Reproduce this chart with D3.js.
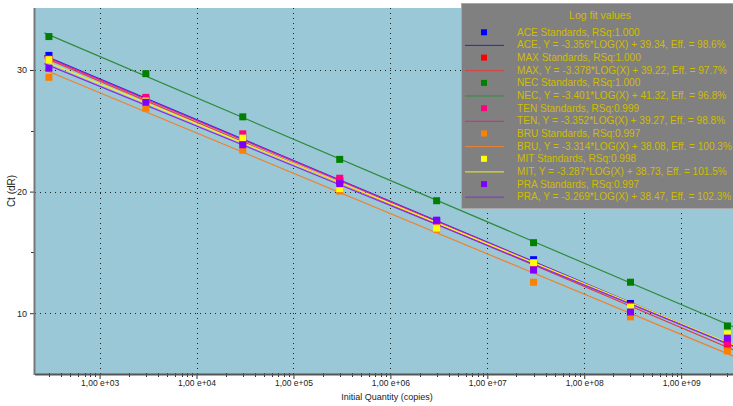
<!DOCTYPE html>
<html>
<head>
<meta charset="utf-8">
<script src="https://cdn.jsdelivr.net/npm/d3@7/dist/d3.min.js"></script>
<style>
html,body{margin:0;padding:0;background:#fff;}
svg{display:block;font-family:"Liberation Sans",Arial,sans-serif;}
</style>
</head>
<body>
<svg id="c" width="733" height="406"></svg>
<script>
// ---- data ----
const quantities = [3e2, 3e3, 3e4, 3e5, 3e6, 3e7, 3e8, 3e9];
const seriesNames = ["ACE", "MAX", "NEC", "TEN", "BRU", "MIT", "PRA"];
const seriesColors = ["#0000ff", "#ff0000", "#008000", "#ff0080", "#ff8000", "#ffff00", "#8000ff"];
const lineColors = ["#1f1fff", "#e03c3c", "#2e8b3e", "#e0208a", "#f08030", "#f0f020", "#8a2be2"];
const ctACE = [31.2, 27.6, 24.4, 20.9, 17.6, 14.4, 10.8, 7.6];
const ctMAX = [30.9, 27.5, 24.1, 20.8, 17.3, 13.9, 10.6, 7.3];
const ctNEC = [32.75, 29.7, 26.15, 22.65, 19.25, 15.8, 12.55, 8.95];
const ctTEN = [30.9, 27.75, 24.75, 21.1, 17.5, 14.0, 10.5, 7.55];
const ctBRU = [29.4, 26.85, 23.4, 20.05, 16.9, 12.55, 9.7, 6.9];
const ctMIT = [30.85, 27.45, 24.4, 20.25, 17.0, 14.15, 10.5, 8.3];
const ctPRA = [30.15, 27.35, 23.85, 20.65, 17.65, 13.55, 10.1, 7.95];
const slopes = [-3.356, -3.378, -3.401, -3.352, -3.314, -3.287, -3.269];
const intercepts = [39.34, 39.22, 41.32, 39.27, 38.08, 38.73, 38.47];
const effs = ["98.6", "97.7", "96.8", "98.8", "100.3", "101.5", "102.3"];
const rsqs = ["1.000", "1.000", "1.000", "0.999", "0.997", "0.998", "0.997"];
const xTickValues = [1e3, 1e4, 1e5, 1e6, 1e7, 1e8, 1e9];
const yTickValues = [10, 20, 30];
const yMinorValues = [15, 25];
const allCt = [ctACE, ctMAX, ctNEC, ctTEN, ctBRU, ctMIT, ctPRA];

// ---- layout ----
const svg = d3.select("#c");
const L = 35, R = 733, T = 8, B = 374;
const x = d3.scaleLog().domain([Math.pow(10, 2.3335), Math.pow(10, 9.5347)]).range([L, R]);
const y = d3.scaleLinear().domain([5, 35.1]).range([B, T]);

svg.append("defs").append("clipPath").attr("id", "plotclip")
  .append("rect").attr("x", L).attr("y", T).attr("width", R - L).attr("height", B - T);

svg.append("rect").attr("x", L).attr("y", T).attr("width", R - L).attr("height", B - T).attr("fill", "#9bc8d6");

// grid
const grid = svg.append("g");
grid.selectAll("line.v").data(xTickValues).enter().append("line")
  .attr("x1", d => Math.round(x(d)) + 0.5).attr("x2", d => Math.round(x(d)) + 0.5)
  .attr("y1", T).attr("y2", B)
  .attr("stroke", "#222").attr("stroke-width", 1).attr("stroke-dasharray", "1,4");
grid.selectAll("line.h").data(yTickValues).enter().append("line")
  .attr("y1", d => Math.round(y(d)) + 0.5).attr("y2", d => Math.round(y(d)) + 0.5)
  .attr("x1", L).attr("x2", R)
  .attr("stroke", "#222").attr("stroke-width", 1).attr("stroke-dasharray", "1,4");

// fit lines
const plot = svg.append("g").attr("clip-path", "url(#plotclip)");
const lineX = [Math.pow(10, 2.43), Math.pow(10, 9.6)];
seriesNames.forEach((n, i) => {
  plot.append("line")
    .attr("x1", x(lineX[0])).attr("x2", x(lineX[1]))
    .attr("y1", y(slopes[i] * Math.log10(lineX[0]) + intercepts[i]))
    .attr("y2", y(slopes[i] * Math.log10(lineX[1]) + intercepts[i]))
    .attr("stroke", lineColors[i]).attr("stroke-width", 1.2);
});
// points
seriesNames.forEach((n, i) => {
  plot.selectAll("rect.p" + i).data(allCt[i]).enter().append("rect")
    .attr("x", (d, j) => x(quantities[j]) - 3.5)
    .attr("y", d => y(d) - 3.5)
    .attr("width", 7).attr("height", 7)
    .attr("fill", seriesColors[i]);
});

// axes
const xAxis = d3.axisBottom(x).tickValues(xTickValues).tickSize(5)
  .tickFormat(d => "1,00 e+" + String(Math.round(Math.log10(d))).padStart(2, "0"));
const gx = svg.append("g").attr("transform", `translate(0,${B})`).call(xAxis);
gx.select(".domain").remove();
gx.selectAll(".tick line").attr("stroke", "#333");
gx.selectAll(".tick text").attr("font-size", "8.5px").attr("fill", "#222").attr("y", 6).attr("dy", "0.71em")
  .attr("font-family", "'Liberation Sans', Arial, sans-serif");
// minor x ticks
const minorX = [];
for (let e = 2; e <= 9; e++) for (let m = 1; m <= 9; m++) {
  const v = m * Math.pow(10, e);
  if (x(v) > L && x(v) < R && m !== 1) minorX.push(v);
}
svg.append("g").selectAll("line").data(minorX).enter().append("line")
  .attr("x1", d => Math.round(x(d)) + 0.5).attr("x2", d => Math.round(x(d)) + 0.5)
  .attr("y1", B - 1).attr("y2", B + 3).attr("stroke", "#333");
svg.append("line").attr("x1", L).attr("x2", R).attr("y1", B + 0.5).attr("y2", B + 0.5)
  .attr("stroke", "#555").attr("stroke-width", 2);

const yAxis = d3.axisLeft(y).tickValues(yTickValues).tickSize(5).tickFormat(d3.format("d"));
const gy = svg.append("g").attr("transform", `translate(${L},0)`).call(yAxis);
gy.select(".domain").remove();
gy.selectAll(".tick line").attr("stroke", "#333");
gy.selectAll(".tick text").attr("font-size", "9px").attr("fill", "#222")
  .attr("font-family", "'Liberation Sans', Arial, sans-serif");
svg.append("g").selectAll("line").data(yMinorValues).enter().append("line")
  .attr("x1", L - 4).attr("x2", L).attr("y1", d => Math.round(y(d)) + 0.5).attr("y2", d => Math.round(y(d)) + 0.5)
  .attr("stroke", "#333");
svg.append("line").attr("x1", L - 0.5).attr("x2", L - 0.5).attr("y1", T).attr("y2", B + 1)
  .attr("stroke", "#777").attr("stroke-width", 2);

// axis titles
svg.append("text").attr("x", 387).attr("y", 400).attr("text-anchor", "middle")
  .attr("font-size", "9px").attr("fill", "#222").text("Initial Quantity (copies)");
svg.append("text").attr("transform", "translate(15,191) rotate(-90)").attr("text-anchor", "middle")
  .attr("font-size", "10px").attr("fill", "#222").text("Ct (dR)");

// legend
const lg = svg.append("g");
lg.append("rect").attr("x", 461.5).attr("y", 3.5).attr("width", 273).attr("height", 205)
  .attr("fill", "#808080").attr("stroke", "#a8a8a8").attr("stroke-width", 1);
lg.append("text").attr("x", 600).attr("y", 18.5).attr("text-anchor", "middle")
  .attr("font-size", "10.5px").attr("fill", "#d0bc00").text("Log fit values");
const eqTexts = [];
seriesNames.forEach((n, i) => {
  const y1 = 32.3 + i * 25.3, y2 = y1 + 12.6;
  lg.append("rect").attr("x", 481).attr("y", y1 - 3).attr("width", 6).attr("height", 6).attr("fill", seriesColors[i]);
  lg.append("line").attr("x1", 465).attr("x2", 504).attr("y1", y2 + 0.5).attr("y2", y2 + 0.5)
    .attr("stroke", lineColors[i]).attr("stroke-width", 1);
  lg.append("text").attr("x", 517).attr("y", y1 + 3.5).attr("font-size", "10px").attr("fill", "#d0bc00")
    .attr("class", "lt").text(`${n} Standards, RSq:${rsqs[i]}`);
  eqTexts.push(lg.append("text").attr("x", 517).attr("y", y2 + 3.5).attr("font-size", "10px").attr("fill", "#d0bc00")
    .attr("class", "lt").text(`${n}, Y = ${slopes[i].toFixed(3)}*LOG(X) + ${intercepts[i].toFixed(2)}, Eff. = ${effs[i]}%`));
});
// fit the ACE equation line into ~210px, apply same size to all legend texts
const w0 = eqTexts[0].node().getComputedTextLength();
const fs = Math.min(10.5, 10 * 209 / w0);
lg.selectAll("text.lt").attr("font-size", fs + "px");
</script>
</body>
</html>
